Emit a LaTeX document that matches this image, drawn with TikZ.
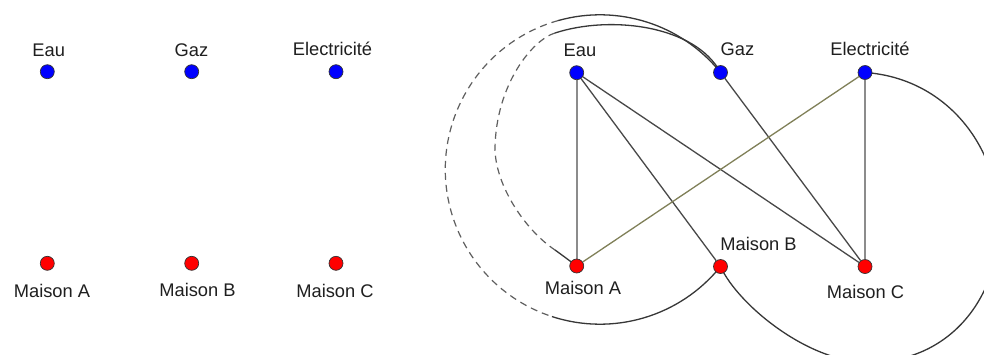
\documentclass[tikz,border=0pt]{standalone}
\usepackage{fontspec}
\setmainfont{Liberation Sans}
\usetikzlibrary{backgrounds}
\definecolor{dotblue}{RGB}{0,0,255}
\definecolor{dotred}{RGB}{255,0,0}
\definecolor{edgegray}{RGB}{140,140,140}
\definecolor{edgedark}{RGB}{72,72,72}
\definecolor{edgeolive}{RGB}{128,128,88}
\definecolor{arcdark}{RGB}{55,55,55}
\definecolor{dashgray}{RGB}{95,95,95}
\begin{document}
\begin{tikzpicture}[x=1pt,y=-1pt,
  src/.style={circle,draw=black!80,line width=0.7pt,fill=dotblue,minimum size=14pt,inner sep=0pt},
  dst/.style={src,fill=dotred},
  lbl/.style={anchor=base,inner sep=0pt,font=\fontsize{18.3}{20}\selectfont,text=black!88},
  lightedge/.style={draw=edgegray,line width=1.8pt},
  darkedge/.style={draw=edgedark,line width=1.3pt},
  oliveedge/.style={draw=edgeolive,line width=1.3pt},
  arcline/.style={draw=arcdark,line width=1.3pt},
  dashline/.style={draw=dashgray,line width=1.2pt,dash pattern=on 7pt off 5pt}]
\useasboundingbox (0,0) rectangle (984,354);
\clip (0,0) rectangle (984,354);

% left graph
\node[src] (eau1) at (47.3,71.7) {};
\node[src] (gaz1) at (191.7,71.7) {};
\node[src] (ele1) at (336,71.7) {};
\node[dst] (ma1) at (47.3,263.3) {};
\node[dst] (mb1) at (191.7,263.3) {};
\node[dst] (mc1) at (336,263.3) {};
\node[lbl] (leau1) at (48.7,56) {Eau};
\node[lbl] (lgaz1) at (191.5,56.5) {Gaz};
\node[lbl] (lele1) at (332.5,55) {Electricité};
\node[lbl] (lma1) at (52,297.5) {Maison A};
\node[lbl] (lmb1) at (197.5,296.7) {Maison B};
\node[lbl] (lmc1) at (335,297) {Maison C};

% right graph
\node[src] (eau2) at (576.7,72.7) {};
\node[src] (gaz2) at (720.5,72.5) {};
\node[src] (ele2) at (865,72.5) {};
\node[dst] (ma2) at (576.7,266) {};
\node[dst] (mb2) at (720.5,266.5) {};
\node[dst] (mc2) at (865,266.5) {};
\node[lbl] (leau2) at (580,56) {Eau};
\node[lbl] (lgaz2) at (737.5,55.5) {Gaz};
\node[lbl] (lele2) at (870,55) {Electricité};
\node[lbl] (lma2) at (583,294.3) {Maison A};
\node[lbl] (lmb2) at (758.5,250) {Maison B};
\node[lbl] (lmc2) at (865.5,298) {Maison C};

\begin{scope}[on background layer]
  \fill[white] (0,0) rectangle (984,354);
  % straight connectors
  \draw[lightedge] (eau2) -- (ma2);
  \draw[lightedge] (ele2) -- (mc2);
  \draw[darkedge] (eau2) -- (mb2);
  \draw[darkedge] (eau2) -- (mc2);
  \draw[darkedge] (gaz2) -- (mc2);
  \draw[oliveedge] (ele2) -- (ma2);
  % outer arc Gaz -> Maison B
  \draw[arcline] (gaz2.center) arc[start angle=-38.83, end angle=-105.7, radius=154.7] coordinate (o1);
  \draw[dashline] (o1) arc[start angle=-105.7, end angle=-251.9, radius=154.7] coordinate (o2);
  \draw[arcline] (o2) arc[start angle=-251.9, end angle=-321.17, radius=154.7];
  % inner arc Gaz -> Maison A
  \coordinate (j1) at (555,33);
  \coordinate (lft) at (495,148);
  \coordinate (j2) at (555,250);
  \draw[arcline] (gaz2.center) .. controls (695,25) and (610,15) .. (j1);
  \draw[dashline] (j1) .. controls (532,40) and (496,85) .. (lft)
                       .. controls (495,185) and (525,230) .. (j2);
  \draw[arcline] (j2) .. controls (562,255) and (570,261) .. (ma2.center);
  % right arc Electricite -> Maison B
  \coordinate (rgt) at (999,223);
  \coordinate (bot) at (870,362);
  \draw[arcline] (ele2.center) .. controls (945,78) and (999,145) .. (rgt)
                 .. controls (999,300) and (948,362) .. (bot)
                 .. controls (810,364) and (738,305) .. (mb2.center);
\end{scope}
\end{tikzpicture}
\end{document}
